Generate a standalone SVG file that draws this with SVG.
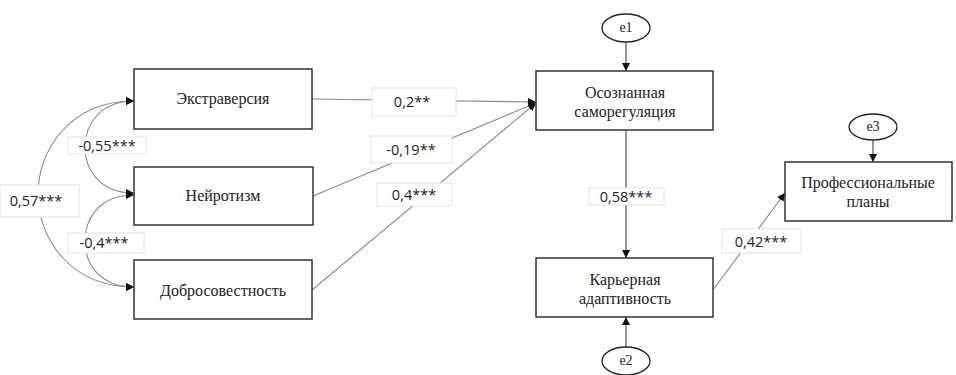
<svg xmlns="http://www.w3.org/2000/svg" width="956" height="375" viewBox="0 0 956 375">
<defs>
<marker id="ah" viewBox="0 0 10 10" refX="10" refY="5" markerWidth="8" markerHeight="8" markerUnits="userSpaceOnUse" orient="auto-start-reverse">
<path d="M0,0 L10,5 L0,10 z" fill="#111"/>
</marker>
</defs>
<style>
.box{fill:#fff;stroke:#333;stroke-width:1.5}
.ell{fill:#fff;stroke:#222;stroke-width:1.3}
.t{font-family:'Liberation Serif','DejaVu Serif',serif;font-size:16px;fill:#222;text-anchor:middle}
.te{font-family:'Liberation Serif','DejaVu Serif',serif;font-size:14px;fill:#222;text-anchor:middle}
.c{fill:none;stroke:#8a8a8a;stroke-width:1.1}
.cd{fill:none;stroke:#444;stroke-width:1.1}
.lb{fill:#fff;stroke:#e4e4e4;stroke-width:1}
.lt{font-family:'Open Sans','Liberation Sans',sans-serif;font-size:14.5px;fill:#222;text-anchor:middle}
</style>
<rect width="956" height="375" fill="#fff"/>
<g id="connectors">
<path class="c" d="M134,101 C100,101 85,125 85,147 C85,170 100,193 134,193" marker-start="url(#ah)" marker-end="url(#ah)"/>
<path class="c" d="M134,195 C100,195 85,218 85,241 C85,264 100,287 134,287" marker-start="url(#ah)" marker-end="url(#ah)"/>
<path class="c" d="M134,101 C70,101 38,150 38,194 C38,238 70,287 134,287" marker-start="url(#ah)" marker-end="url(#ah)"/>
<line class="c" x1="312" y1="99" x2="536" y2="102" marker-end="url(#ah)"/>
<line class="c" x1="313" y1="196" x2="536" y2="103" marker-end="url(#ah)"/>
<line class="c" x1="312" y1="290" x2="536" y2="103" marker-end="url(#ah)"/>
<line class="cd" x1="626" y1="42" x2="626" y2="71" marker-end="url(#ah)"/>
<line class="cd" x1="626" y1="130" x2="626" y2="258" marker-end="url(#ah)"/>
<line class="cd" x1="626" y1="347" x2="626" y2="317" marker-end="url(#ah)"/>
<line class="cd" x1="873" y1="140" x2="873" y2="162" marker-end="url(#ah)"/>
<line class="c" x1="713" y1="290" x2="785" y2="193" marker-end="url(#ah)"/>
</g>
<g id="labels">
<rect class="lb" x="68" y="137" width="78" height="17"/>
<text class="lt" x="107" y="150.5">-0,55***</text>
<rect class="lb" x="68" y="233" width="76" height="20"/>
<text class="lt" x="104" y="248">-0,4***</text>
<rect class="lb" x="0" y="185" width="79" height="32"/>
<text class="lt" x="36" y="206">0,57***</text>
<rect class="lb" x="372" y="88" width="84" height="28"/>
<text class="lt" x="412" y="107">0,2**</text>
<rect class="lb" x="371" y="136" width="81" height="27"/>
<text class="lt" x="411" y="154.5">-0,19**</text>
<rect class="lb" x="377" y="183" width="75" height="23"/>
<text class="lt" x="414" y="199.5">0,4***</text>
<rect class="lb" x="589" y="188" width="75" height="17"/>
<text class="lt" x="626" y="202">0,58***</text>
<rect class="lb" x="722" y="229" width="79" height="24"/>
<text class="lt" x="761" y="246.5">0,42***</text>
</g>
<g id="n-extra">
<rect class="box" x="134" y="69" width="178" height="60"/>
<text class="t" x="223" y="104">Экстраверсия</text>
</g>
<g id="n-neuro">
<rect class="box" x="134" y="167" width="179" height="58"/>
<text class="t" x="223" y="201">Нейротизм</text>
</g>
<g id="n-dobro">
<rect class="box" x="134" y="260" width="178" height="59"/>
<text class="t" x="223" y="296">Добросовестность</text>
</g>
<g id="n-samoreg">
<rect class="box" x="536" y="71" width="177" height="59"/>
<text class="t" x="625" y="98">Осознанная</text>
<text class="t" x="625" y="117">саморегуляция</text>
</g>
<g id="n-karier">
<rect class="box" x="536" y="258" width="177" height="59"/>
<text class="t" x="625" y="285">Карьерная</text>
<text class="t" x="625" y="304">адаптивность</text>
</g>
<g id="n-prof">
<rect class="box" x="785" y="162" width="167" height="59"/>
<text class="t" x="868" y="188">Профессиональные</text>
<text class="t" x="868" y="207">планы</text>
</g>
<g id="e1">
<ellipse class="ell" cx="626" cy="28" rx="24" ry="14"/>
<text class="te" x="626" y="32">e1</text>
</g>
<g id="e2">
<ellipse class="ell" cx="626" cy="361" rx="24" ry="14"/>
<text class="te" x="626" y="365">e2</text>
</g>
<g id="e3">
<ellipse class="ell" cx="873" cy="127" rx="24" ry="13"/>
<text class="te" x="873" y="131">e3</text>
</g>
</svg>
